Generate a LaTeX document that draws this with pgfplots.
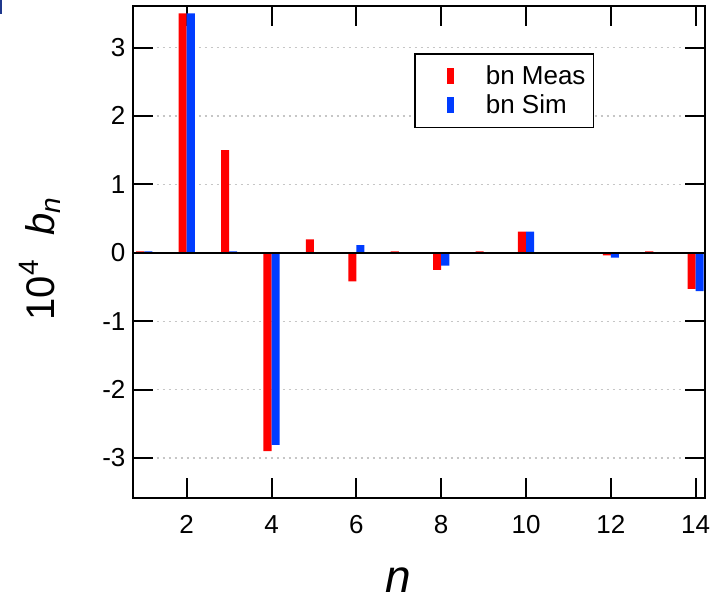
\documentclass[border=0pt]{standalone}
\usepackage{fontspec}
\setmainfont{Liberation Sans}
\usepackage{pgfplots}
\pgfplotsset{compat=1.18}
\definecolor{barred}{RGB}{255,0,0}
\definecolor{barblue}{RGB}{0,60,255}
\definecolor{navycorner}{RGB}{31,56,140}
\begin{document}
\begin{tikzpicture}
\begin{axis}[
  at={(0,0)}, anchor=south west,
  scale only axis, width=286.25pt, height=246.15pt,
  xmin=0.722, xmax=14.22, ymin=-3.59, ymax=3.607,
  axis line style={line width=1pt},
  every tick/.style={black, line width=1pt},
  major tick length=10pt,
  tick align=inside,
  xtick pos=both, ytick pos=both,
  xticklabel pos=left, yticklabel pos=left,
  xtick={2,4,6,8,10,12,14}, xticklabels={2,4,6,8,10,12,14},
  ytick={-3,-2,-1,0,1,2,3}, yticklabels={-3,-2,-1,0,1,2,3},
  ymajorgrids,
  major grid style={gray!45, line width=0.6pt, dash pattern=on 1pt off 2pt},
  tick label style={font=\fontsize{13}{15}\selectfont},
  xticklabel style={yshift=-5.2pt},
  /pgf/number format/assume math mode=true,
  xlabel={\itshape n},
  xlabel style={at={(axis description cs:0.4638,0)}, anchor=base, inner sep=0pt, yshift=-47.3pt, font=\fontsize{23}{27}\selectfont},
  ylabel={10\textsuperscript{4}\hspace{12pt}\textit{b}\textsubscript{\textit{n}}},
  ylabel style={at={(axis description cs:-0.1616,0.487)}, anchor=center, font=\fontsize{20}{24}\selectfont},
  legend cell align=left,
  legend style={at={(rel axis cs:0.4917,0.904)}, anchor=north west, draw=black, line width=0.8pt,
    inner xsep=4pt, inner ysep=5.35pt, row sep=3pt,
    font=\fontsize{13}{15}\selectfont,
    nodes={inner sep=0pt, text height=10pt, text depth=1.5pt}},
  legend image code/.code={\fill[#1] (11.85pt,-4.1pt) rectangle (15.65pt,4.1pt); \path (0pt,0pt) (31.5pt,0pt);},
]
\addplot[ybar, bar width=0.19, bar shift=-0.095, fill=barred, draw=none] coordinates {
(1,0.02) (2,3.50) (3,1.50) (4,-2.90) (5,0.195) (6,-0.42) (7,0.02)
(8,-0.25) (9,0.02) (10,0.31) (11,0.01) (12,-0.04) (13,0.02) (14,-0.53)};
\addlegendentry{bn Meas}
\addplot[ybar, bar width=0.19, bar shift=0.095, fill=barblue, draw=none] coordinates {
(1,0.02) (2,3.50) (3,0.02) (4,-2.81) (5,0.01) (6,0.11) (7,0.01)
(8,-0.19) (9,0.01) (10,0.31) (11,0.01) (12,-0.07) (13,0.01) (14,-0.56)};
\addlegendentry{bn Sim}
\addplot[black, line width=1pt, forget plot] coordinates {(0.722,0) (14.22,0)};
\end{axis}
\pgfresetboundingbox
\path[use as bounding box] (-66.25pt,-49.35pt) rectangle (294.25pt,249.15pt);
\fill[navycorner] (-66.25pt,242.15pt) rectangle (-65.25pt,249.15pt);
\end{tikzpicture}
\end{document}
